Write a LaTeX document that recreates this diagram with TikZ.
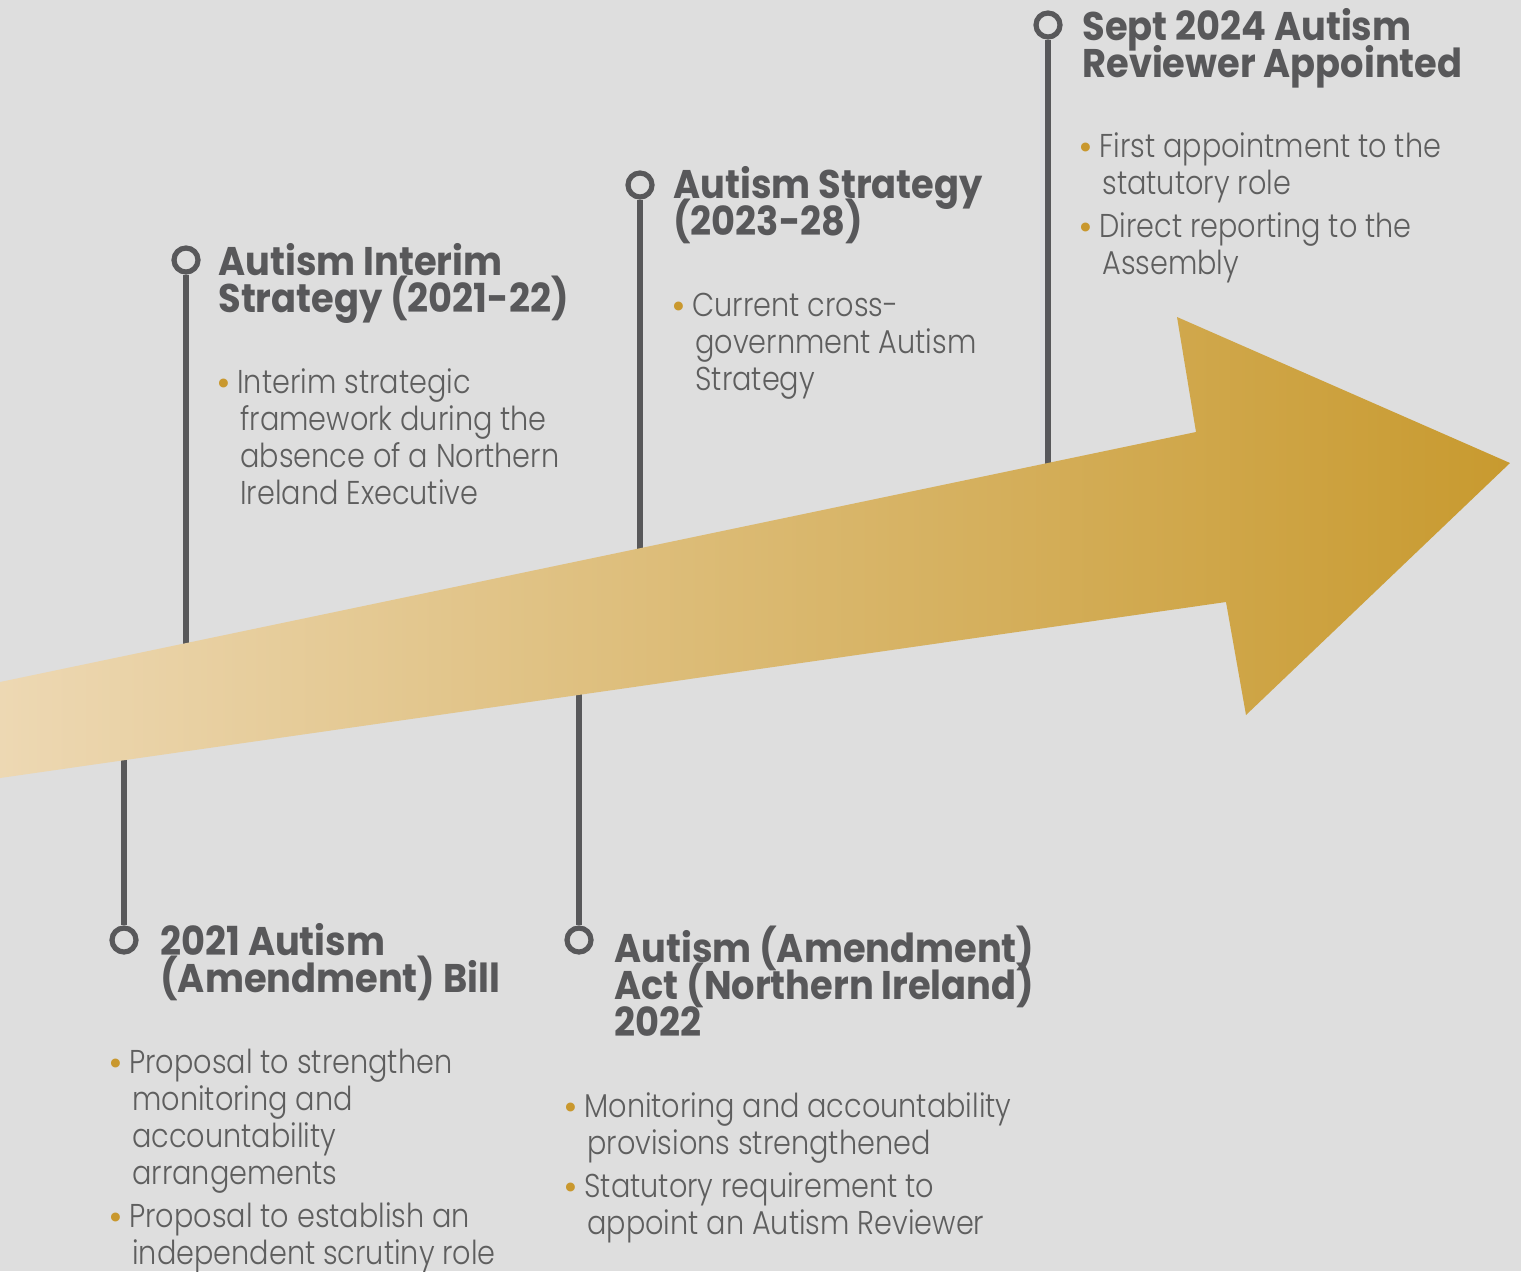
\documentclass[tikz,border=0pt]{standalone}
\usepackage{fontspec}
\setmainfont{Poppins}
\newfontfamily\lightfont{Poppins}[UprightFont={* Light}, FakeStretch=0.87]
\newfontfamily\hdfont{Poppins}[UprightFont={* Bold}, FakeStretch=0.92]
\newfontfamily\bulfont{Poppins}
\definecolor{bg}{HTML}{DEDEDE}
\definecolor{linegray}{HTML}{58585A}
\definecolor{txtdark}{HTML}{58585A}
\definecolor{txtbody}{HTML}{5E5E5E}
\definecolor{gold}{HTML}{C9982E}
\definecolor{arL}{HTML}{EDD8B3}
\definecolor{arR}{HTML}{C89A2F}
\newcommand\bu{\makebox[9pt][l]{\hspace*{-1.5pt}\raisebox{-1pt}{\textcolor{gold}{\bulfont\fontsize{18}{18}\selectfont\textbullet}}}}
\newcommand\ind{\hspace*{10.5pt}}
\newcommand\stk[1]{\vtop{\lineskiplimit=-30pt\relax #1}}
\begin{document}
\begin{tikzpicture}[x=0.5pt,y=-0.5pt,
  hd/.style={anchor=base west, inner sep=0, text=txtdark,
    font=\hdfont\fontsize{20}{18.5}\selectfont},
  bd/.style={anchor=base west, inner sep=0, text=txtbody,
    font=\lightfont\fontsize{16.5}{18.5}\selectfont},
  dotc/.style={circle, draw=linegray, line width=2.6pt, fill=bg, minimum size=12pt, inner sep=0},
  vline/.style={draw=linegray, line width=3pt}]
\fill[bg] (0,0) rectangle (1521,1271);
\useasboundingbox (0,0) rectangle (1521,1271);
% markers
\node[dotc] (c1) at (186,260) {};
\node[dotc] (c2) at (640,185) {};
\node[dotc] (c3) at (1048,25) {};
\node[dotc] (c4) at (124,940) {};
\node[dotc] (c5) at (579,940) {};
\coordinate (e1) at (186,646);
\coordinate (e2) at (640,551);
\coordinate (e3) at (1048,466);
\coordinate (e4) at (124,757);
\coordinate (e5) at (579,692);
\draw[vline] (c1.south) -- (e1);
\draw[vline] (c2.south) -- (e2);
\draw[vline] (c3.south) -- (e3);
\draw[vline] (e4) -- (c4.north);
\draw[vline] (e5) -- (c5.north);
% arrow
\shade[left color=arL, right color=arR] (0,682) -- (1196,432) -- (1177,317) -- (1510,463) -- (1246,715) -- (1226,602) -- (0,778) -- cycle;
% headings
\node[hd] (h1) at (218,275) {\stk{\hbox{Autism Interim}\hbox{Strategy (2021-22)}}};
\node[hd] (h2) at (673,198) {\stk{\hbox{Autism Strategy}\hbox{(2023-28)}}};
\node[hd] (h3) at (1082,40) {\stk{\hbox{Sept 2024 Autism}\hbox{Reviewer Appointed}}};
\node[hd] (h4) at (160,955) {\stk{\hbox{2021 Autism}\hbox{(Amendment) Bill}}};
\node[hd] (h5) at (614,962) {\stk{\hbox{Autism (Amendment)}\hbox{Act (Northern Ireland)}\hbox{2022}}};
% bullets
\node[bd] (b1) at (219,393) {\stk{\hbox{\bu Interim strategic}\hbox{\ind framework during the}\hbox{\ind absence of a Northern}\hbox{\ind Ireland Executive}}};
\node[bd] (b2) at (674,316) {\stk{\hbox{\bu Current cross-}\hbox{\ind government Autism}\hbox{\ind Strategy}}};
\node[bd] (b3a) at (1081,157) {\stk{\hbox{\bu First appointment to the}\hbox{\ind statutory role}}};
\node[bd] (b3b) at (1081,237) {\stk{\hbox{\bu Direct reporting to the}\hbox{\ind Assembly}}};
\node[bd] (b4a) at (111,1073) {\stk{\hbox{\bu Proposal to strengthen}\hbox{\ind monitoring and}\hbox{\ind accountability}\hbox{\ind arrangements}}};
\node[bd] (b4b) at (111,1227) {\stk{\hbox{\bu Proposal to establish an}\hbox{\ind independent scrutiny role}}};
\node[bd] (b5a) at (566,1117) {\stk{\hbox{\bu Monitoring and accountability}\hbox{\ind provisions strengthened}}};
\node[bd] (b5b) at (566,1197) {\stk{\hbox{\bu Statutory requirement to}\hbox{\ind appoint an Autism Reviewer}}};
\end{tikzpicture}
\end{document}
